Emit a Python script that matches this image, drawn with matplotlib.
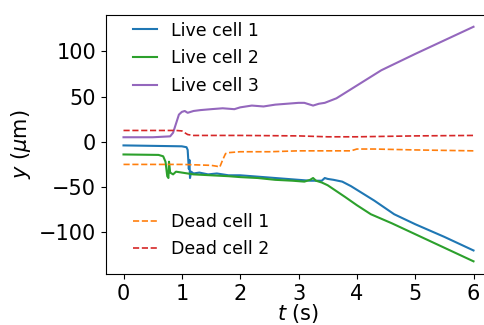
import matplotlib
matplotlib.use("Agg")
import matplotlib.pyplot as plt
import matplotlib.ticker as ticker

# values
t_live1 = [0, 0.5, 1.0, 1.08, 1.10, 1.12, 1.13, 1.14, 1.16, 1.2, 1.3, 1.45, 1.6, 1.8, 2.0,
           2.2, 2.4, 2.6, 2.8, 3.0, 3.2, 3.4, 3.45, 3.5, 3.6, 3.75, 3.9, 4.3, 4.64, 5.0, 5.5, 6.0]
y_live1 = [-4, -4.5, -5, -6, -9, -30, -20, -40, -33, -35, -34, -36, -35, -37, -37,
           -38, -39, -40, -41, -42, -43, -43, -40, -41, -42, -44, -49, -65, -80, -91, -105, -120]

t_live2 = [0, 0.6, 0.68, 0.72, 0.75, 0.77, 0.78, 0.8, 0.85, 0.9, 1.0, 1.2, 1.5, 1.8, 2.0,
           2.3, 2.6, 2.9, 3.1, 3.2, 3.25, 3.3, 3.4, 3.5, 3.8, 4.0, 4.24, 4.6, 5.0, 5.5, 6.0]
y_live2 = [-14, -14.5, -16, -22, -38, -40, -22, -34, -36, -33, -34, -36, -37, -38, -39,
           -40, -42, -43, -44, -42, -40, -43, -45, -48, -61, -70, -80, -90, -102, -117, -132]

t_live3 = [0, 0.5, 0.8, 0.85, 0.9, 0.95, 1.0, 1.05, 1.1, 1.2, 1.32, 1.5, 1.7, 1.9, 2.0,
           2.2, 2.4, 2.6, 2.8, 3.0, 3.1, 3.2, 3.25, 3.35, 3.45, 3.65, 4.42, 5.0, 6.0]
y_live3 = [5, 5, 6, 10, 20, 30, 33, 34, 32, 34, 35, 36, 37, 36, 38,
           40, 39, 41, 42, 43, 43, 41, 40, 42, 43, 48, 79, 97, 127]

t_dead1 = [0, 1.0, 1.5, 1.6, 1.65, 1.7, 1.75, 1.8, 2.0, 2.5, 3.0, 3.5, 3.9, 4.0, 4.3, 5.0, 6.0]
y_dead1 = [-25, -25, -26, -27, -28, -20, -13, -12, -11, -11, -10, -10, -10, -8, -8, -9, -10]

t_dead2 = [0, 0.9, 1.0, 1.05, 1.1, 1.2, 2.0, 3.0, 3.5, 4.0, 5.0, 6.0]
y_dead2 = [12.5, 12.5, 12, 10, 8, 7, 7, 6.5, 5.5, 5.5, 6.5, 7]

fig = plt.figure(figsize=(4.84, 3.25), dpi=100)
ax = fig.add_axes([106 / 484, 51 / 325, 385 / 484, 259 / 325])

l1, = ax.plot(t_live1, y_live1, color="tab:blue", lw=1.5, label="Live cell 1")
l2, = ax.plot(t_live2, y_live2, color="tab:green", lw=1.5, label="Live cell 2")
l3, = ax.plot(t_live3, y_live3, color="tab:purple", lw=1.5, label="Live cell 3")
d1, = ax.plot(t_dead1, y_dead1, "--", color="tab:orange", lw=1.2, label="Dead cell 1")
d2, = ax.plot(t_dead2, y_dead2, "--", color="tab:red", lw=1.2, label="Dead cell 2")

ax.set_xlim(-0.3, 6.3)
ax.set_ylim(-146, 140)
ax.xaxis.set_major_locator(ticker.MultipleLocator(1))
ax.set_xlabel("$t$ (s)", fontsize=15, labelpad=-1)
ax.set_ylabel(r"$y$ ($\mu$m)", fontsize=15)
ax.tick_params(labelsize=15)

leg1 = ax.legend(handles=[l1, l2, l3], loc="upper left", frameon=False, fontsize=12.5,
                 handlelength=1.4, labelspacing=0.55, bbox_to_anchor=(0.03, 1.035))
ax.add_artist(leg1)
ax.legend(handles=[d1, d2], loc="lower left", frameon=False, fontsize=12.5,
          handlelength=1.4, labelspacing=0.55, bbox_to_anchor=(0.03, 0.0))

fig.savefig("out.png", dpi=100)
